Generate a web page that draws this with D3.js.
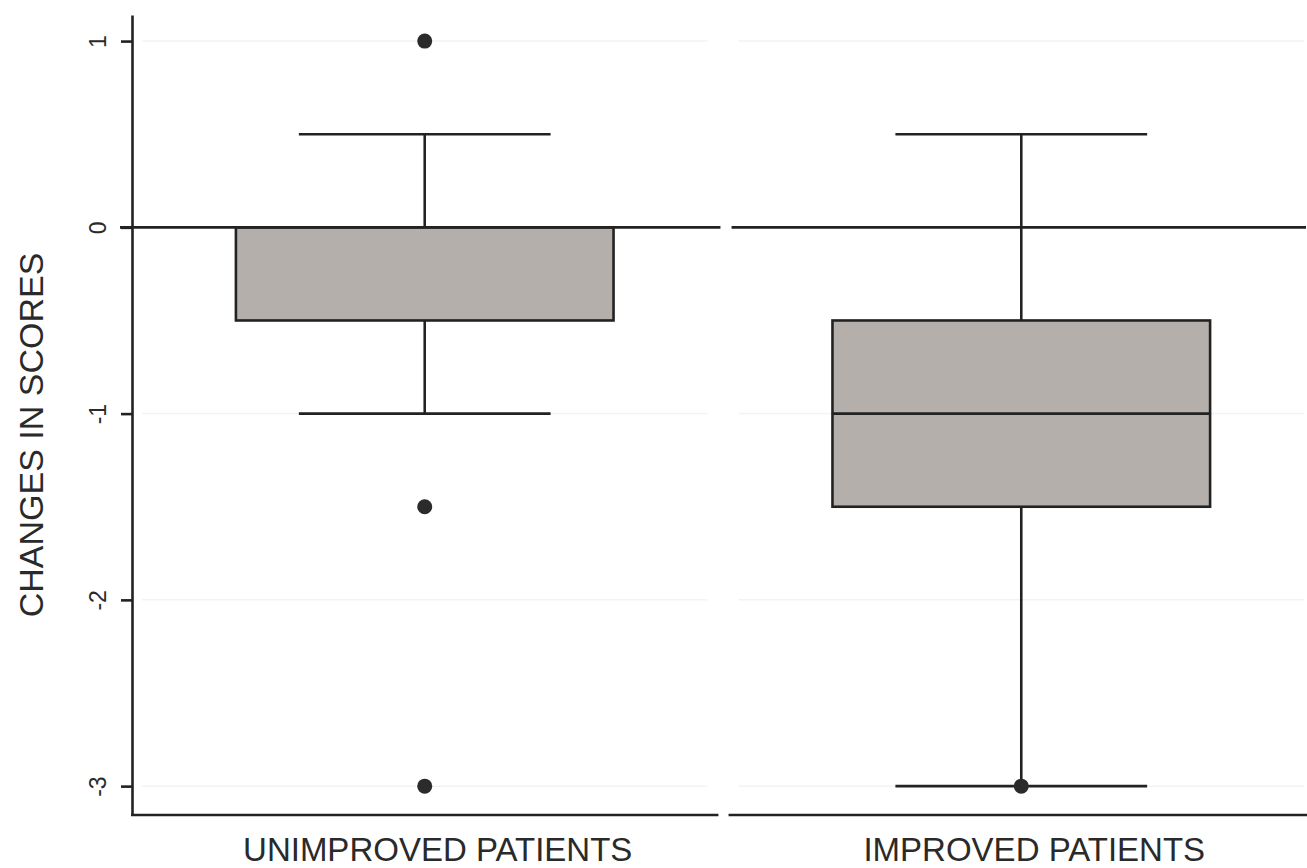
<!DOCTYPE html>
<html>
<head>
<meta charset="utf-8">
<script src="https://cdn.jsdelivr.net/npm/d3@7"></script>
<style>
  html, body { margin: 0; padding: 0; background: #fff; }
  svg { display: block; }
  text { font-family: "Liberation Sans", Arial, sans-serif; fill: #2a2a2a; }
</style>
</head>
<body>
<svg id="chart" width="1307" height="868"></svg>
<script>
// ---- data ----
const categories   = ["UNIMPROVED PATIENTS", "IMPROVED PATIENTS"];
const whiskerLow   = [-1, -3];
const q1           = [-0.5, -1.5];
const median       = [0, -1];
const q3           = [0, -0.5];
const whiskerHigh  = [0.5, 0.5];
const outliers     = [[1, -1.5, -3], [-3]];
const yTicks       = [1, 0, -1, -2, -3];
const yTickLabels  = ["1", "0", "-1", "-2", "-3"];
const yTitle       = "CHANGES IN SCORES";

// ---- layout ----
const svg = d3.select("#chart");
const ink = "#222222";
const boxFill = "#b5afac";
const sw = 2.6;

const y = d3.scaleLinear().domain([1.14, -3.155]).range([15, 815]);
const x = d3.scaleBand().domain(categories).range([132, 1314]).paddingInner(22 / 1182).paddingOuter(0);
const bw = x.bandwidth();
const boxW = bw * 0.645;
const capW = bw * 0.43;

// faint gridlines
categories.forEach(c => {
  svg.append("g").selectAll("line").data(yTicks).join("line")
    .attr("x1", x(c) + 10).attr("x2", x(c) + bw - 10)
    .attr("y1", d => y(d)).attr("y2", d => y(d))
    .attr("stroke", "#f3f3f3").attr("stroke-width", 1.5);
});

// y axis
const yAxis = d3.axisLeft(y).tickValues(yTicks).tickSize(11).tickSizeOuter(0)
  .tickFormat((d, i) => yTickLabels[i]);
const ga = svg.append("g").attr("transform", "translate(132,0)").call(yAxis);
ga.attr("font-size", null).attr("font-family", null);
ga.select(".domain").attr("stroke", ink).attr("stroke-width", sw);
ga.selectAll(".tick line").attr("stroke", ink).attr("stroke-width", sw);
ga.selectAll(".tick text")
  .attr("x", null).attr("dy", null)
  .attr("transform", "translate(-26,0) rotate(-90)")
  .attr("text-anchor", "middle")
  .attr("font-size", 23)
  .style("font-size", "23px")
  .style("font-family", "'Liberation Sans', Arial, sans-serif")
  .attr("fill", "#2a2a2a");

// y title
svg.append("text")
  .attr("transform", `translate(43,${435}) rotate(-90)`)
  .attr("text-anchor", "middle")
  .style("font-size", "34px")
  .text(yTitle);

// per-panel baseline and zero line
categories.forEach((c, i) => {
  const x0 = x(c), x1 = x(c) + bw;
  svg.append("line")
    .attr("x1", i === 0 ? x0 - 1 : x0).attr("x2", x1 + 1)
    .attr("y1", 815).attr("y2", 815)
    .attr("stroke", ink).attr("stroke-width", sw);
  svg.append("line")
    .attr("x1", i === 0 ? x0 - 12 : x0 + 3).attr("x2", i === 0 ? x1 + 3 : x1 - 8)
    .attr("y1", y(0)).attr("y2", y(0))
    .attr("stroke", ink).attr("stroke-width", sw);
});

// boxes
categories.forEach((c, i) => {
  const cx = x(c) + bw / 2;
  const g = svg.append("g");
  g.append("line").attr("x1", cx).attr("x2", cx)
    .attr("y1", y(whiskerHigh[i])).attr("y2", y(q3[i]))
    .attr("stroke", ink).attr("stroke-width", sw);
  g.append("line").attr("x1", cx).attr("x2", cx)
    .attr("y1", y(q1[i])).attr("y2", y(whiskerLow[i]))
    .attr("stroke", ink).attr("stroke-width", sw);
  [whiskerHigh[i], whiskerLow[i]].forEach(v => {
    g.append("line").attr("x1", cx - capW / 2).attr("x2", cx + capW / 2)
      .attr("y1", y(v)).attr("y2", y(v))
      .attr("stroke", ink).attr("stroke-width", sw);
  });
  g.append("rect")
    .attr("x", cx - boxW / 2).attr("width", boxW)
    .attr("y", y(q3[i])).attr("height", y(q1[i]) - y(q3[i]))
    .attr("fill", boxFill).attr("stroke", ink).attr("stroke-width", sw);
  g.append("line").attr("x1", cx - boxW / 2).attr("x2", cx + boxW / 2)
    .attr("y1", y(median[i])).attr("y2", y(median[i]))
    .attr("stroke", ink).attr("stroke-width", sw);
  g.selectAll("circle").data(outliers[i]).join("circle")
    .attr("cx", cx).attr("cy", d => y(d)).attr("r", 7.5)
    .attr("fill", "#2b2b2b");
  svg.append("text")
    .attr("x", cx + 13).attr("y", 861)
    .attr("text-anchor", "middle")
    .style("font-size", "33px")
    .text(c);
});
</script>
</body>
</html>
